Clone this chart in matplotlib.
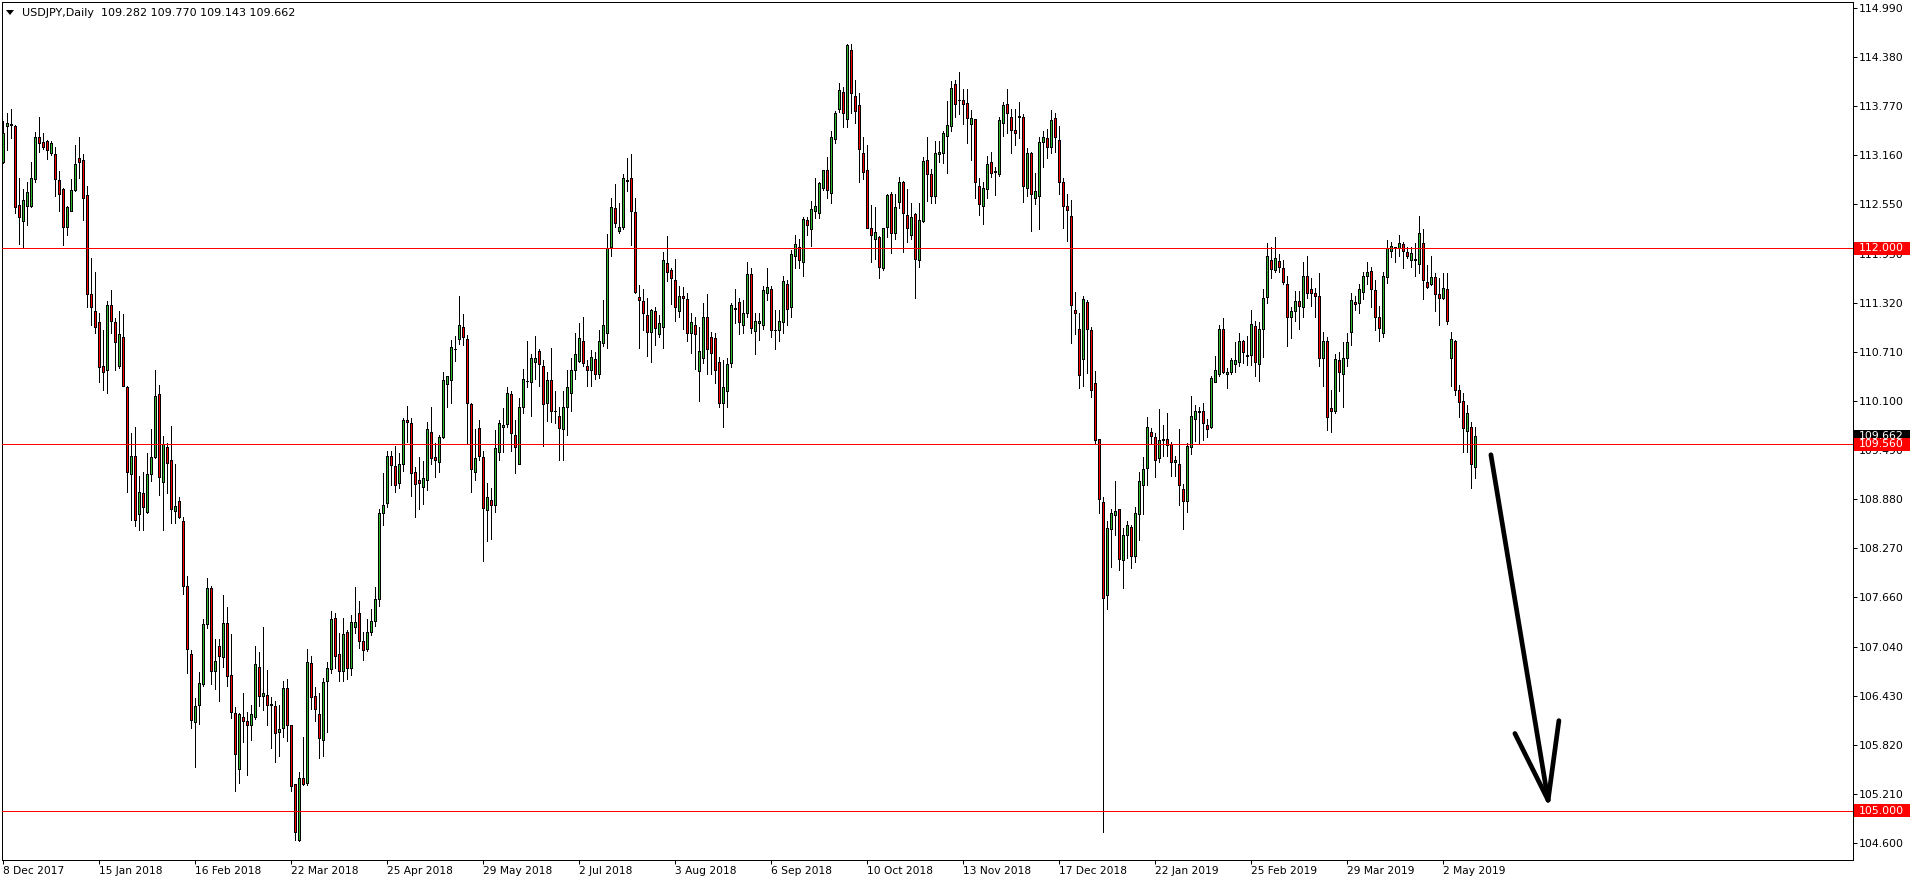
# USDJPY daily candles, Dec 2017 - May 2019 (MT4 style)

import matplotlib.pyplot as plt
import numpy as np
from matplotlib.patches import Rectangle, Polygon
from matplotlib.transforms import blended_transform_factory

# daily bars, 8 Dec 2017 .. 14 May 2019 (Dec 25 / Jan 1 skipped)
opens = [
    113.08, 113.52, 113.55, 113.52, 112.54, 112.34, 112.53, 112.53, 112.86, 113.39,
    113.32, 113.33, 113.18, 113.17, 112.85, 112.74, 112.27, 112.47, 112.73, 113.12,
    113.10, 112.66, 111.43, 111.22, 111.08, 110.54, 110.48, 111.30, 111.08, 110.53,
    110.90, 110.27, 109.19, 109.41, 108.69, 108.95, 108.72, 109.19, 109.40, 110.18,
    109.09, 109.52, 109.36, 108.73, 108.85, 108.60, 107.79, 106.95, 106.10, 106.31,
    106.57, 107.32, 107.77, 106.74, 107.05, 106.91, 107.34, 106.69, 106.22, 105.52,
    106.17, 106.12, 106.06, 106.17, 106.79, 106.43, 106.44, 106.31, 106.30, 105.98,
    106.03, 106.52, 106.06, 105.33, 104.63, 105.41, 105.34, 106.84, 106.43, 106.20,
    105.88, 106.61, 106.76, 107.40, 106.95, 106.74, 107.22, 106.78, 107.28, 107.46,
    107.11, 107.01, 107.22, 107.36, 107.63, 108.71, 108.83, 109.42, 109.29, 109.08,
    109.31, 109.86, 109.82, 109.21, 109.11, 109.03, 109.12, 109.71, 109.40, 109.34,
    109.65, 110.31, 110.36, 110.74, 110.87, 111.02, 110.87, 110.06, 109.21, 109.76,
    109.40, 108.74, 108.87, 108.80, 109.46, 109.78, 109.81, 110.18, 109.67, 109.31,
    110.02, 110.35, 110.33, 110.59, 110.72, 110.54, 110.07, 110.36, 109.98, 109.91,
    109.75, 110.03, 110.20, 110.49, 110.60, 110.85, 110.54, 110.48, 110.62, 110.43,
    110.82, 110.95, 112.01, 112.50, 112.21, 112.27, 112.85, 112.87, 112.45, 111.39,
    111.34, 111.17, 110.96, 111.22, 110.93, 111.02, 111.82, 111.73, 111.61, 111.22,
    111.41, 111.37, 110.95, 111.05, 110.47, 110.64, 111.14, 110.89, 110.88, 110.58,
    110.08, 110.22, 110.57, 111.26, 111.33, 111.05, 111.19, 111.68, 110.97, 111.07,
    111.04, 111.44, 111.49, 110.98, 110.98, 111.08, 111.55, 111.27, 111.90, 112.01,
    111.83, 112.35, 112.24, 112.47, 112.44, 112.75, 112.97, 112.69, 113.36, 113.73,
    113.94, 113.61, 114.47, 113.89, 113.78, 113.18, 112.98, 112.25, 112.11, 112.14,
    111.76, 112.27, 112.67, 112.19, 112.57, 112.82, 112.42, 112.16, 112.43, 111.86,
    112.34, 113.10, 112.93, 112.65, 113.17, 113.18, 113.40, 113.52, 114.05, 113.85,
    113.84, 113.81, 113.55, 113.61, 112.78, 112.53, 112.74, 113.07, 112.96, 112.92,
    113.56, 113.79, 113.64, 113.47, 113.65, 113.64, 112.75, 113.19, 112.63, 112.65,
    113.32, 113.37, 113.26, 113.62, 113.35, 112.83, 112.53, 112.40, 111.23, 111.00,
    110.62, 111.33, 110.98, 110.32, 109.63, 108.84, 107.68, 108.51, 108.68, 108.75,
    108.12, 108.43, 108.53, 108.17, 108.69, 109.05, 109.27, 109.71, 109.65, 109.39,
    109.61, 109.63, 109.56, 109.34, 109.31, 109.00, 108.86, 109.52, 109.87, 109.96,
    109.98, 109.80, 109.77, 110.34, 110.44, 110.99, 110.43, 110.46, 110.56, 110.59,
    110.84, 110.67, 110.67, 111.03, 110.56, 110.99, 111.39, 111.86, 111.73, 111.84,
    111.76, 111.56, 111.14, 111.22, 111.34, 111.27, 111.65, 111.49, 111.44, 111.40,
    110.63, 110.84, 110.01, 109.97, 110.61, 110.44, 110.63, 110.96, 111.33, 111.32,
    111.46, 111.66, 111.72, 111.48, 111.15, 110.94, 111.64, 111.96, 112.02, 112.00,
    112.05, 111.95, 111.85, 111.87, 111.81, 112.07, 111.58, 111.55, 111.64, 111.43,
    111.38, 111.49, 110.64, 110.85, 110.23, 110.10, 109.73, 109.78, 109.282,
]
highs = [
    113.58, 113.68, 113.74, 113.54, 112.87, 112.74, 112.82, 113.07, 113.45, 113.63,
    113.44, 113.35, 113.33, 113.26, 112.96, 112.75, 112.53, 112.86, 113.29, 113.39,
    113.17, 112.78, 111.88, 111.70, 111.19, 110.98, 111.34, 111.48, 111.13, 111.22,
    111.18, 110.28, 109.70, 109.78, 109.16, 109.22, 109.45, 109.75, 110.49, 110.30,
    109.66, 109.57, 109.79, 109.32, 108.90, 108.66, 107.92, 107.00, 106.40, 106.72,
    107.38, 107.90, 107.80, 107.13, 107.14, 107.68, 107.53, 107.20, 106.29, 106.22,
    106.47, 106.23, 106.32, 107.05, 106.98, 107.28, 106.75, 106.41, 106.36, 106.31,
    106.61, 106.64, 106.07, 105.33, 105.48, 105.91, 107.01, 106.93, 106.54, 106.46,
    106.65, 106.85, 107.49, 107.46, 107.21, 107.40, 107.25, 107.43, 107.78, 107.61,
    107.22, 107.39, 107.51, 107.78, 108.76, 109.20, 109.48, 109.48, 109.54, 109.45,
    109.89, 110.04, 109.89, 109.28, 109.40, 109.35, 109.84, 110.03, 109.57, 109.68,
    110.46, 110.41, 110.86, 110.91, 111.40, 111.18, 110.92, 110.08, 109.75, 109.86,
    109.48, 109.08, 109.01, 109.74, 109.86, 110.01, 110.27, 110.22, 109.86, 110.13,
    110.50, 110.84, 110.69, 110.91, 110.75, 110.61, 110.46, 110.76, 110.22, 110.03,
    110.22, 110.49, 110.64, 110.94, 111.07, 111.14, 110.61, 110.73, 110.71, 110.98,
    111.36, 112.18, 112.63, 112.80, 112.56, 112.93, 113.13, 113.17, 112.62, 111.54,
    111.49, 111.38, 111.25, 111.27, 111.17, 111.95, 112.15, 111.75, 111.87, 111.53,
    111.52, 111.44, 111.20, 111.15, 111.02, 111.32, 111.43, 110.96, 110.95, 110.65,
    110.61, 110.63, 111.32, 111.49, 111.38, 111.36, 111.83, 111.76, 111.19, 111.20,
    111.53, 111.75, 111.53, 111.23, 111.23, 111.65, 111.61, 111.98, 112.17, 112.12,
    112.39, 112.39, 112.59, 112.88, 112.83, 112.98, 113.14, 113.46, 113.71, 114.06,
    114.01, 114.54, 114.54, 114.10, 113.93, 113.38, 113.28, 112.54, 112.51, 112.15,
    112.25, 112.68, 112.70, 112.68, 112.89, 112.84, 112.74, 112.56, 112.44, 112.56,
    113.14, 113.38, 112.99, 113.33, 113.33, 113.46, 113.83, 114.08, 114.10, 114.20,
    113.98, 113.98, 113.72, 113.61, 112.88, 112.83, 113.15, 113.20, 113.01, 113.64,
    113.82, 113.98, 113.73, 113.73, 113.82, 113.67, 113.25, 113.20, 112.94, 113.38,
    113.46, 113.48, 113.72, 113.68, 113.52, 112.87, 112.68, 112.60, 111.46, 111.20,
    111.41, 111.36, 111.02, 110.47, 109.63, 108.91, 108.60, 108.76, 109.10, 108.75,
    108.52, 108.61, 108.56, 108.78, 109.21, 109.40, 109.90, 109.76, 109.70, 110.00,
    109.80, 109.95, 109.59, 109.42, 109.75, 109.07, 109.57, 110.16, 110.05, 110.03,
    110.08, 109.88, 110.41, 110.66, 111.05, 111.13, 110.51, 110.64, 110.83, 110.95,
    110.86, 110.91, 111.23, 111.09, 111.08, 111.49, 112.07, 112.01, 112.14, 111.93,
    111.85, 111.66, 111.27, 111.47, 111.47, 111.83, 111.90, 111.63, 111.51, 111.69,
    110.96, 110.90, 110.24, 110.69, 110.71, 110.83, 110.95, 111.44, 111.41, 111.56,
    111.70, 111.83, 111.77, 111.61, 111.28, 111.70, 112.10, 112.08, 112.02, 112.17,
    112.08, 112.02, 112.02, 112.06, 112.40, 112.24, 111.79, 111.90, 111.69, 111.63,
    111.69, 111.69, 110.96, 110.86, 110.30, 110.20, 110.05, 109.84, 109.770,
]
lows = [
    113.06, 113.22, 113.37, 112.44, 112.05, 112.02, 112.29, 112.51, 112.83, 113.20,
    113.24, 113.11, 113.16, 112.65, 112.46, 112.04, 112.16, 112.46, 112.71, 112.87,
    112.35, 111.27, 111.04, 110.95, 110.33, 110.24, 110.20, 110.94, 110.49, 110.51,
    110.29, 108.96, 108.62, 108.54, 108.49, 108.49, 108.70, 109.10, 109.39, 108.93,
    108.49, 108.95, 108.58, 108.58, 108.64, 107.70, 106.71, 106.03, 105.54, 106.08,
    106.55, 107.27, 106.58, 106.51, 106.36, 106.79, 106.55, 106.15, 105.25, 105.34,
    105.85, 105.44, 105.88, 106.14, 106.30, 106.25, 106.06, 105.78, 105.60, 105.68,
    105.92, 105.87, 105.25, 104.63, 104.62, 105.32, 105.32, 106.26, 106.12, 105.65,
    105.68, 105.98, 106.71, 106.77, 106.61, 106.61, 106.64, 106.69, 107.21, 107.03,
    106.87, 106.99, 107.18, 107.30, 107.55, 108.55, 108.78, 109.05, 108.97, 109.02,
    109.23, 109.59, 108.92, 108.65, 108.76, 108.82, 108.99, 109.32, 109.15, 109.21,
    109.64, 110.03, 110.07, 110.60, 110.81, 110.79, 109.56, 108.96, 109.12, 109.37,
    108.11, 108.35, 108.38, 108.72, 109.37, 109.47, 109.78, 109.48, 109.20, 109.31,
    109.95, 110.27, 109.91, 110.37, 110.29, 109.54, 109.85, 109.84, 109.82, 109.37,
    109.37, 109.68, 109.97, 110.37, 110.58, 110.53, 110.28, 110.29, 110.37, 110.38,
    110.78, 110.76, 111.91, 112.27, 112.19, 112.24, 112.71, 112.04, 111.44, 110.76,
    110.98, 110.66, 110.59, 110.79, 110.89, 110.76, 111.59, 111.31, 111.10, 111.15,
    110.99, 110.84, 110.70, 110.50, 110.10, 110.57, 110.43, 110.44, 110.32, 110.02,
    109.77, 110.03, 110.52, 111.07, 110.93, 110.95, 111.15, 110.95, 110.68, 110.86,
    111.00, 111.35, 110.90, 110.75, 110.85, 110.95, 111.05, 111.15, 111.75, 111.76,
    111.66, 112.16, 112.03, 112.38, 112.38, 112.73, 112.62, 112.56, 113.31, 113.70,
    113.51, 113.51, 113.68, 113.56, 112.82, 112.86, 112.25, 111.83, 111.87, 111.63,
    111.73, 112.14, 111.94, 112.12, 112.50, 111.95, 112.08, 112.12, 111.38, 111.77,
    112.33, 112.59, 112.56, 112.56, 113.07, 113.06, 112.94, 113.46, 113.64, 113.67,
    113.55, 113.31, 113.10, 112.63, 112.42, 112.30, 112.63, 112.89, 112.66, 112.90,
    113.40, 113.43, 113.19, 113.28, 113.37, 112.57, 112.65, 112.22, 112.55, 112.24,
    113.01, 113.13, 113.19, 113.20, 112.67, 112.25, 112.09, 110.82, 110.93, 110.26,
    110.28, 110.45, 110.15, 109.58, 108.71, 104.73, 107.51, 108.03, 108.43, 108.00,
    107.77, 108.15, 108.02, 108.10, 108.37, 108.69, 109.05, 109.57, 109.15, 109.34,
    109.42, 109.42, 109.16, 109.16, 108.81, 108.50, 108.72, 109.44, 109.60, 109.56,
    109.61, 109.65, 109.76, 110.34, 110.41, 110.45, 110.26, 110.44, 110.46, 110.53,
    110.57, 110.55, 110.55, 110.41, 110.35, 110.65, 111.32, 111.63, 111.71, 111.71,
    111.55, 110.78, 110.88, 111.10, 111.00, 111.14, 111.38, 111.28, 111.15, 110.53,
    110.29, 109.74, 109.71, 109.95, 110.22, 110.02, 110.53, 110.80, 111.23, 111.20,
    111.37, 111.56, 111.27, 110.98, 110.84, 110.89, 111.57, 111.89, 111.83, 111.90,
    111.76, 111.88, 111.77, 111.65, 111.69, 111.37, 111.51, 111.54, 111.22, 111.04,
    111.37, 111.06, 110.28, 110.17, 109.90, 109.47, 109.47, 109.02, 109.143,
]
closes = [
    113.44, 113.56, 113.54, 112.52, 112.39, 112.60, 112.70, 112.88, 113.38, 113.31,
    113.26, 113.22, 113.31, 112.86, 112.67, 112.27, 112.51, 112.73, 113.05, 113.08,
    112.63, 111.43, 111.27, 111.02, 110.52, 110.46, 111.29, 111.10, 110.83, 110.93,
    110.29, 109.22, 109.41, 108.62, 108.96, 108.78, 109.19, 109.40, 110.16, 109.15,
    109.56, 109.33, 108.75, 108.79, 108.66, 107.80, 107.01, 106.13, 106.30, 106.59,
    107.32, 107.77, 106.74, 106.86, 106.93, 107.33, 106.67, 106.23, 105.71, 106.20,
    106.11, 106.06, 106.20, 106.82, 106.43, 106.46, 106.31, 106.33, 105.96, 106.02,
    106.52, 106.06, 105.31, 104.73, 105.40, 105.33, 106.85, 106.42, 106.26, 105.90,
    106.60, 106.77, 107.39, 106.92, 106.74, 107.20, 106.78, 107.35, 107.35, 107.11,
    107.00, 107.22, 107.36, 107.63, 108.70, 108.81, 109.42, 109.30, 109.05, 109.32,
    109.86, 109.84, 109.20, 109.06, 109.08, 109.14, 109.75, 109.39, 109.37, 109.65,
    110.36, 110.41, 110.77, 110.74, 111.04, 110.89, 110.08, 109.25, 109.39, 109.41,
    108.77, 108.90, 108.81, 109.51, 109.82, 109.80, 110.20, 109.70, 109.52, 110.03,
    110.37, 110.35, 110.63, 110.64, 110.56, 110.06, 110.36, 109.97, 109.97, 109.76,
    110.02, 110.27, 110.49, 110.68, 110.88, 110.57, 110.48, 110.65, 110.44, 110.84,
    111.04, 112.00, 112.52, 112.32, 112.27, 112.87, 112.84, 112.46, 111.45, 111.35,
    111.20, 110.96, 111.23, 111.01, 111.07, 111.86, 111.71, 111.63, 111.27, 111.40,
    111.38, 110.95, 111.08, 110.93, 110.72, 111.14, 110.74, 110.70, 110.49, 110.07,
    110.27, 110.56, 111.29, 111.25, 111.08, 111.19, 111.68, 111.01, 111.09, 111.10,
    111.48, 111.52, 110.98, 110.98, 111.10, 111.59, 111.25, 111.93, 112.05, 111.85,
    112.37, 112.29, 112.49, 112.53, 112.81, 112.97, 112.73, 113.39, 113.68, 113.97,
    113.68, 114.53, 113.93, 113.71, 113.23, 112.95, 112.25, 112.17, 112.20, 111.77,
    112.25, 112.66, 112.19, 112.51, 112.82, 112.44, 112.25, 112.39, 111.87, 112.35,
    113.09, 112.93, 112.65, 113.19, 113.20, 113.44, 113.54, 114.00, 113.79, 113.84,
    113.79, 113.62, 113.62, 112.82, 112.55, 112.75, 113.05, 112.94, 112.95, 113.60,
    113.78, 113.69, 113.47, 113.44, 113.64, 112.78, 113.19, 112.68, 112.71, 113.32,
    113.39, 113.26, 113.60, 113.38, 112.83, 112.53, 112.48, 111.29, 111.20, 110.42,
    111.37, 111.00, 110.24, 109.61, 108.88, 107.65, 108.52, 108.71, 108.73, 108.13,
    108.43, 108.55, 108.17, 108.70, 109.10, 109.25, 109.77, 109.66, 109.37, 109.61,
    109.63, 109.55, 109.34, 109.37, 109.05, 108.86, 109.54, 109.91, 109.97, 109.98,
    109.82, 109.75, 110.38, 110.48, 111.00, 110.46, 110.46, 110.61, 110.61, 110.85,
    110.71, 110.66, 111.06, 110.58, 110.99, 111.38, 111.91, 111.74, 111.88, 111.77,
    111.58, 111.15, 111.22, 111.34, 111.28, 111.65, 111.44, 111.44, 111.40, 110.63,
    110.85, 109.90, 109.98, 110.62, 110.46, 110.64, 110.83, 111.36, 111.31, 111.49,
    111.65, 111.70, 111.49, 111.14, 111.01, 111.65, 112.00, 112.03, 112.01, 112.06,
    111.96, 111.90, 111.94, 111.86, 112.19, 111.61, 111.52, 111.64, 111.43, 111.38,
    111.50, 111.09, 110.87, 110.24, 110.09, 109.76, 109.95, 109.31, 109.662,
]

# date labels every 24 bars
date_labels = ["8 Dec 2017", "15 Jan 2018", "16 Feb 2018", "22 Mar 2018", "25 Apr 2018",
               "29 May 2018", "2 Jul 2018", "3 Aug 2018", "6 Sep 2018", "10 Oct 2018",
               "13 Nov 2018", "17 Dec 2018", "22 Jan 2019", "25 Feb 2019", "29 Mar 2019",
               "2 May 2019"]
price_ticks = [114.990, 114.380, 113.770, 113.160, 112.550, 111.930, 111.320, 110.710,
               110.100, 109.490, 108.880, 108.270, 107.660, 107.040, 106.430, 105.820,
               105.210, 104.600]

# horizontal levels drawn on the chart
levels = [112.000, 109.560, 105.000]
bid = 109.662
header = "USDJPY,Daily  109.282 109.770 109.143 109.662"

# hand drawn arrow (bar index, price)
arrow_tail = (371.9, 109.43)
arrow_tip = (386.2, 105.13)
arrow_left = (377.9, 105.96)
arrow_right = (388.9, 106.12)

W, H = 1916, 884
fig = plt.figure(figsize=(W / 100, H / 100), dpi=100)
fig.patch.set_facecolor("white")


def fx(px):
    return px / W


def fy(py):
    return 1 - py / H


# frame in pixels; bar i sits at x = 3.3 + 4 i
left, top, right, bottom = 1.5, 1.5, 1852.5, 860.0
ax = fig.add_axes([fx(left), fy(bottom), (right - left) / W, (bottom - top) / H])
ax.set_xlim((left - 3.3) / 4, (right - 3.3) / 4)
ax.set_ylim(104.385, 115.072)

o = np.array(opens)
c = np.array(closes)
hi = np.maximum(np.array(highs), np.maximum(o, c))
lo = np.minimum(np.array(lows), np.minimum(o, c))
idx = np.arange(len(c))

green = "#2db82d"
red = "#ff0000"
colors = np.where(c > o, green, red)

px = 0.72  # one pixel in points
ax.vlines(idx, lo, hi, color="black", lw=px, zorder=2, antialiased=False)
ax.bar(idx, c - o, bottom=o, width=0.5, color=colors, edgecolor="black",
       linewidth=px, zorder=3, antialiased=False)

for lv in levels:
    ax.axhline(lv, color=red, lw=px, zorder=4, antialiased=False)

# arrow
for a, b in [(arrow_tail, arrow_tip), (arrow_left, arrow_tip), (arrow_right, arrow_tip)]:
    ax.plot([a[0], b[0]], [a[1], b[1]], color="black", lw=3.4,
            solid_capstyle="round", zorder=5)

# axes look
for s in ax.spines.values():
    s.set_color("black")
    s.set_linewidth(px)

ax.set_yticks(price_ticks)
ax.set_yticklabels(["%.3f" % p for p in price_ticks])
ax.tick_params(axis="y", left=False, right=True, labelleft=False, labelright=True,
               direction="out", length=2.9, width=px, pad=1.8, labelsize=7.8,
               colors="black")

ax.set_xticks(np.arange(len(date_labels)) * 24)
ax.set_xticklabels(date_labels, ha="left")
ax.tick_params(axis="x", direction="out", length=2.9, width=px, pad=1.5,
               labelsize=7.7, colors="black")

# price labels on the scale
trans = blended_transform_factory(fig.transFigure, ax.transData)
box_h = 13 / 80.33
box = [(bid, "black")] + [(lv, red) for lv in levels]
for p, col in box:
    fig.add_artist(Rectangle((fx(1854), p - box_h / 2), 56 / W, box_h,
                             transform=trans, facecolor=col, edgecolor="none", zorder=5))
    fig.text(fx(1859), p, "%.3f" % p, transform=trans, color="white",
             fontsize=7.8, va="center", ha="left", zorder=6)

# header
fig.add_artist(Polygon([(fx(6), fy(10)), (fx(14), fy(10)), (fx(10), fy(15))],
                       closed=True, facecolor="black", edgecolor="none",
                       transform=fig.transFigure))
fig.text(fx(22), fy(12.8), header, fontsize=8, va="center", ha="left", color="black")

fig.savefig("out.png", dpi=100)
